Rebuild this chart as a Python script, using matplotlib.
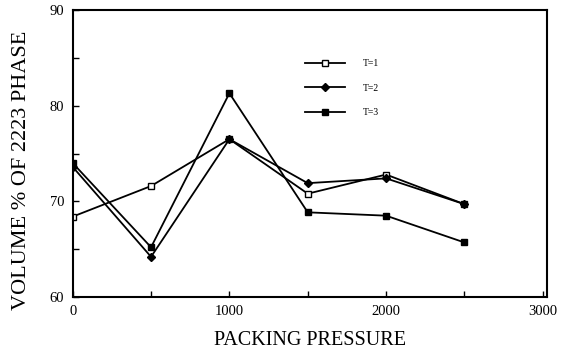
import numpy as np
import matplotlib
matplotlib.use("Agg")
import matplotlib.pyplot as plt
from matplotlib.ticker import MultipleLocator

plt.rcParams['font.family'] = ['Liberation Serif', 'DejaVu Serif']

# packing pressure and volume % of 2223 phase
pressure = [0, 500, 1000, 1500, 2000, 2500]
t1 = [68.4, 71.6, 76.5, 70.8, 72.8, 69.7]
t2 = [73.6, 64.2, 76.5, 71.9, 72.4, 69.7]
t3 = [74.0, 65.2, 81.3, 68.85, 68.5, 65.7]
labels = ['T=1', 'T=2', 'T=3']

fig = plt.figure(figsize=(5.68, 3.55), dpi=100)
ax = fig.add_axes([0.128, 0.1634, 0.8345, 0.8084])

ax.plot(pressure, t1, color='black', lw=1.3, marker='s', markersize=4.5,
        markerfacecolor='white', markeredgewidth=1.0, label=labels[0])
ax.plot(pressure, t2, color='black', lw=1.3, marker='D', markersize=4,
        label=labels[1])
ax.plot(pressure, t3, color='black', lw=1.3, marker='s', markersize=5,
        label=labels[2])

ax.set_xlim(0, 3025)
ax.set_ylim(60, 90)
ax.set_xticks([0, 1000, 2000, 3000])
ax.set_yticks([60, 70, 80, 90])
ax.xaxis.set_minor_locator(MultipleLocator(500))
ax.yaxis.set_minor_locator(MultipleLocator(5))
ax.tick_params(which='both', direction='in', length=4, width=1.0,
               labelsize=10.5, pad=6)
for s in ax.spines.values():
    s.set_linewidth(1.5)

ax.set_xlabel('PACKING PRESSURE', fontsize=14.5, labelpad=9)
ax.set_ylabel('VOLUME % OF 2223 PHASE', fontsize=16)
ax.yaxis.set_label_coords(-0.088, 0.44)

ax.legend(loc='upper left', bbox_to_anchor=(305 / 568, 1 - 59 / 355),
          bbox_transform=fig.transFigure, frameon=False, fontsize=7,
          handlelength=4.1, handletextpad=1.8, labelspacing=1.6,
          borderpad=0, borderaxespad=0)

fig.savefig('out.png', dpi=100)
